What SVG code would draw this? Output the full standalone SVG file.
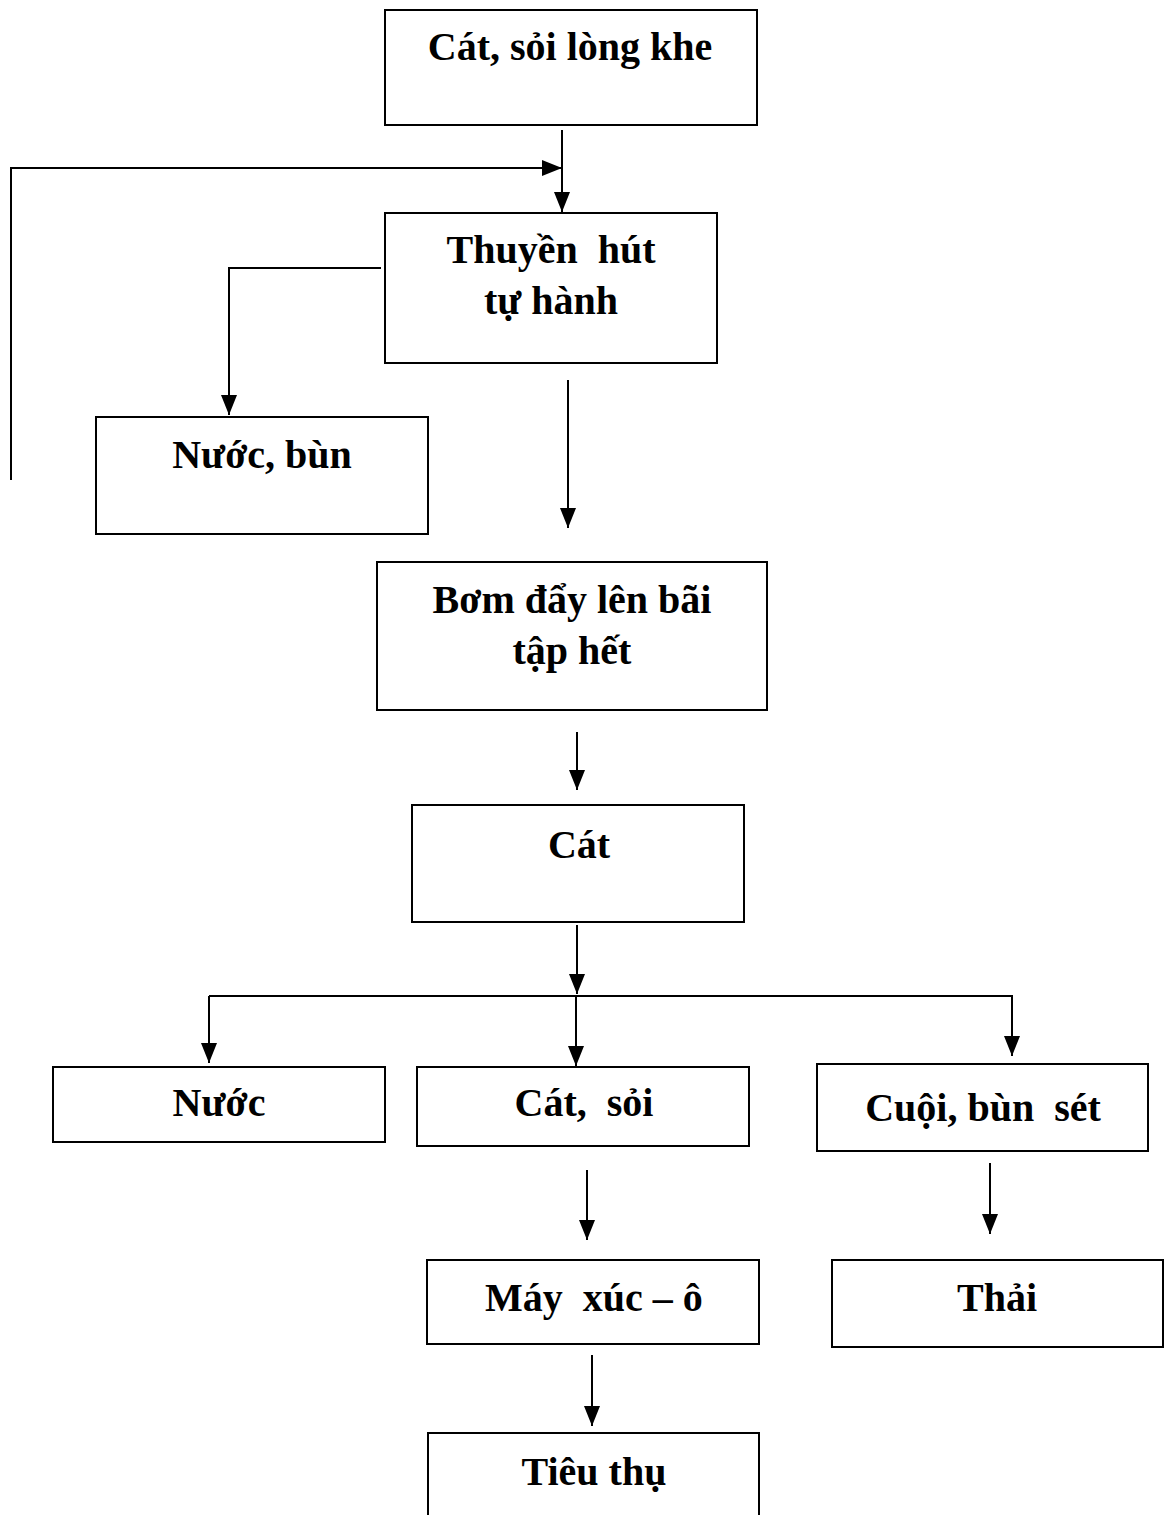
<svg xmlns="http://www.w3.org/2000/svg" width="1166" height="1515" viewBox="0 0 1166 1515">
<style>
.box{fill:#fff;stroke:#000;stroke-width:2}
.t{font-family:"Liberation Serif","Times New Roman",serif;font-weight:bold;font-size:40px;fill:#000;text-anchor:middle;white-space:pre}
.c{fill:none;stroke:#000;stroke-width:2}
</style>
<defs>
<marker id="a" markerWidth="20" markerHeight="16" refX="20" refY="8" orient="auto" markerUnits="userSpaceOnUse" viewBox="0 0 20 16">
<path d="M0,0 L20,8 L0,16 Z" fill="#000"/>
</marker>
</defs>
<rect width="1166" height="1515" fill="#fff"/>
<g id="connectors">
<path class="c" d="M562,130 V212" marker-end="url(#a)"/>
<path class="c" d="M11,480 V168 H562" marker-end="url(#a)"/>
<path class="c" d="M381,268 H229 V415" marker-end="url(#a)"/>
<path class="c" d="M568,380 V528" marker-end="url(#a)"/>
<path class="c" d="M577,732 V790" marker-end="url(#a)"/>
<path class="c" d="M577,925 V994" marker-end="url(#a)"/>
<path class="c" d="M209,996 H1013"/>
<path class="c" d="M209,996 V1063" marker-end="url(#a)"/>
<path class="c" d="M576,996 V1066" marker-end="url(#a)"/>
<path class="c" d="M1012,996 V1056" marker-end="url(#a)"/>
<path class="c" d="M587,1170 V1240" marker-end="url(#a)"/>
<path class="c" d="M990,1163 V1234" marker-end="url(#a)"/>
<path class="c" d="M592,1355 V1426" marker-end="url(#a)"/>
</g>
<g id="n1"><rect class="box" x="385" y="10" width="372" height="115"/><text class="t" x="570" y="60">Cát, sỏi lòng khe</text></g>
<g id="n2"><rect class="box" x="385" y="213" width="332" height="150"/><text class="t" x="551" y="263">Thuyền  hút</text><text class="t" x="551" y="314">tự hành</text></g>
<g id="n3"><rect class="box" x="96" y="417" width="332" height="117"/><text class="t" x="262" y="468">Nước, bùn</text></g>
<g id="n4"><rect class="box" x="377" y="562" width="390" height="148"/><text class="t" x="572" y="613">Bơm đẩy lên bãi</text><text class="t" x="572" y="664">tập hết</text></g>
<g id="n5"><rect class="box" x="412" y="805" width="332" height="117"/><text class="t" x="579" y="858">Cát</text></g>
<g id="n6"><rect class="box" x="53" y="1067" width="332" height="75"/><text class="t" x="219" y="1116">Nước</text></g>
<g id="n7"><rect class="box" x="417" y="1067" width="332" height="79"/><text class="t" x="584" y="1116">Cát,  sỏi</text></g>
<g id="n8"><rect class="box" x="817" y="1064" width="331" height="87"/><text class="t" x="983" y="1121">Cuội, bùn  sét</text></g>
<g id="n9"><rect class="box" x="427" y="1260" width="332" height="84"/><text class="t" x="594" y="1311">Máy  xúc – ô</text></g>
<g id="n10"><rect class="box" x="832" y="1260" width="331" height="87"/><text class="t" x="997" y="1311">Thải</text></g>
<g id="n11"><rect class="box" x="428" y="1433" width="331" height="100"/><text class="t" x="594" y="1485">Tiêu thụ</text></g>
</svg>
